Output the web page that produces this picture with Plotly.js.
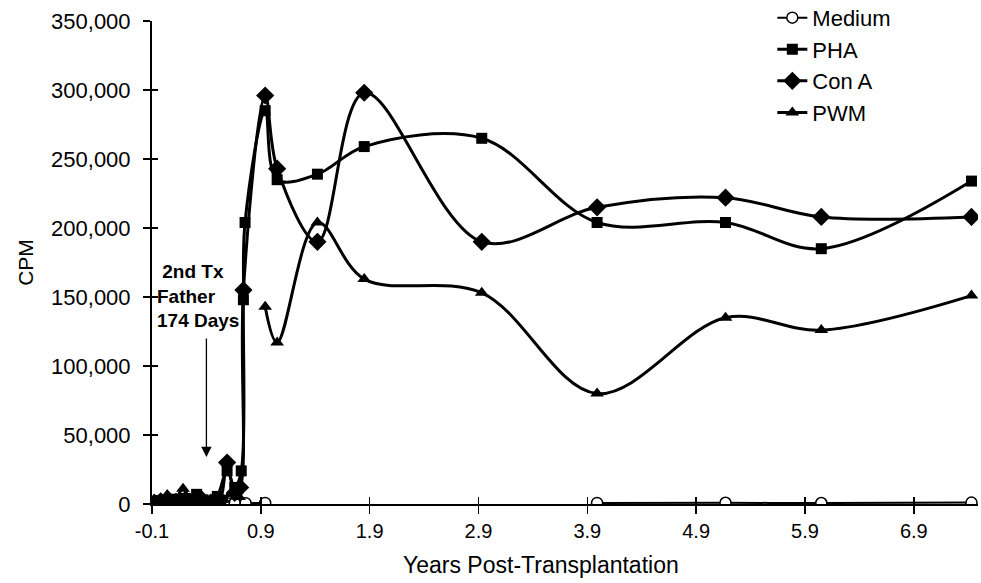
<!DOCTYPE html>
<html>
<head>
<meta charset="utf-8">
<script src="https://cdn.plot.ly/plotly-3.0.1.min.js"></script>
<style>html,body{margin:0;padding:0;background:#fff;}#chart{width:981px;height:583px;}</style>
</head>
<body>
<div id="chart"></div>
<script>
// ---- data (years post-transplantation, CPM) ----
var mediumYears = [-0.08, 0.02, 0.1, 0.2, 0.3, 0.4, 0.51, 0.59, 0.66, 0.76, 0.94, 2.0, 3.99, 5.17, 6.05, 7.43];
var mediumCPM   = [300, 500, 400, 600, 500, 400, 600, 500, 700, 600, 800, null, 800, 900, 700, 1000];

var phaYears = [-0.08, -0.03, 0.02, 0.08, 0.14, 0.2, 0.27, 0.31, 0.37, 0.44, 0.5, 0.59, 0.66, 0.72, 0.74, 0.755, 0.94, 1.05, 1.42, 1.85, 2.93, 3.99, 5.17, 6.05, 7.43];
var phaCPM   = [1500, 2500, 1000, 3500, 2000, 4000, 3000, 7000, 3000, 1500, 5500, 24000, 12000, 24000, 148000, 204000, 285000, 235000, 239000, 259000, 265000, 204000, 204000, 185000, 234000];

var conAYears = [-0.08, -0.02, 0.05, 0.12, 0.2, 0.28, 0.36, 0.44, 0.52, 0.59, 0.66, 0.71, 0.74, 0.94, 1.05, 1.42, 1.85, 2.93, 3.99, 5.17, 6.05, 7.43];
var conACPM   = [1000, 2000, 3000, 1500, 2500, 2000, 3000, 1000, 2000, 30000, 8000, 12000, 155000, 296000, 243000, 190000, 298000, 190000, 215000, 222000, 208000, 208000];

var pwmYears = [-0.08, -0.03, 0.04, 0.1, 0.185, 0.25, 0.33, 0.4, 0.48, 0.56, 0.63, 0.7, 0.8, 0.94, 1.05, 1.42, 1.85, 2.93, 3.99, 5.17, 6.05, 7.43];
var pwmCPM   = [500, 3000, 6500, 2000, 11000, 4000, 2000, 1500, 1000, 3000, 8000, 5000, null, 143000, 117000, 204000, 163000, 153000, 80000, 135000, 126000, 151000];

var xTickVals   = [-0.1, 0.9, 1.9, 2.9, 3.9, 4.9, 5.9, 6.9];
var xTickLabels = ['-0.1', '0.9', '1.9', '2.9', '3.9', '4.9', '5.9', '6.9'];
var yTickVals   = [0, 50000, 100000, 150000, 200000, 250000, 300000, 350000];

var xTitle = 'Years Post-Transplantation';
var yTitle = 'CPM';
var noteText = '&nbsp;2nd Tx<br>Father<br>174 Days';
var noteYear = 0.40, noteTail = 121000, noteHead = 34000;

// ---- traces ----
var lineStyle = {color: '#000', width: 3, shape: 'spline', smoothing: 1};
var traces = [
  {name: 'Medium', x: mediumYears, y: mediumCPM, mode: 'lines+markers',
   line: {color: '#000', width: 2, shape: 'spline', smoothing: 1},
   marker: {symbol: 'circle', size: 11, color: '#fff', line: {color: '#000', width: 1.5}}},
  {name: 'PHA', x: phaYears, y: phaCPM, mode: 'lines+markers', line: lineStyle,
   marker: {symbol: 'square', size: 11, color: '#000'}},
  {name: 'Con A', x: conAYears, y: conACPM, mode: 'lines+markers', line: lineStyle,
   marker: {symbol: 'diamond', size: 14, color: '#000'}},
  {name: 'PWM', x: pwmYears, y: pwmCPM, mode: 'lines+markers', line: lineStyle,
   marker: {symbol: 'triangle-up', size: 12, color: '#000'}},
  // invisible trace carrying the overlay axes that draw the inner half of the crossing ticks
  {x: phaYears, y: phaCPM, xaxis: 'x2', yaxis: 'y2', mode: 'lines', line: {width: 0},
   showlegend: false, hoverinfo: 'skip', opacity: 0}
];

var font = 'Arial, "Liberation Sans", sans-serif';
var xr = [-0.1, 7.49], yr = [0, 350000];

var layout = {
  width: 981, height: 583,
  margin: {l: 152, r: 3, t: 21, b: 79, autoexpand: false},
  paper_bgcolor: '#fff', plot_bgcolor: '#fff',
  font: {family: font, color: '#000', size: 20},
  showlegend: true,
  legend: {x: 0.751, y: 1.05, xanchor: 'left', yanchor: 'top', bgcolor: 'rgba(0,0,0,0)',
           font: {family: font, size: 22, color: '#000'}, itemwidth: 30, tracegroupgap: 0},
  xaxis: {range: xr, tickvals: xTickVals, ticktext: xTickLabels, ticks: 'outside', ticklen: 8,
          tickwidth: 1.5, tickcolor: '#000', showline: true, linecolor: '#000', linewidth: 2,
          showgrid: false, zeroline: false, tickfont: {family: font, size: 20}, automargin: false},
  yaxis: {range: yr, tickvals: yTickVals, tickformat: ',d', ticks: 'outside', ticklen: 7,
          tickwidth: 1.5, tickcolor: '#000', showline: true, linecolor: '#000', linewidth: 2,
          showgrid: false, zeroline: false, tickfont: {family: font, size: 22}, ticklabelstandoff: 8,
          automargin: false, title: {text: yTitle, font: {family: font, size: 21}, standoff: 12}},
  xaxis2: {range: xr, overlaying: 'x', tickvals: xTickVals, ticks: 'inside', ticklen: 7, tickwidth: 1.5,
           tickcolor: '#000', showticklabels: false, showline: false, showgrid: false, zeroline: false},
  yaxis2: {range: yr, overlaying: 'y', tickvals: yTickVals, ticks: 'inside', ticklen: 6, tickwidth: 1.5,
           tickcolor: '#000', showticklabels: false, showline: false, showgrid: false, zeroline: false},
  annotations: [
    {x: noteYear, y: noteHead, ax: noteYear, ay: noteTail, xref: 'x', yref: 'y', axref: 'x', ayref: 'y',
     text: '', showarrow: true, arrowhead: 2, arrowsize: 1.6, arrowwidth: 1.3, arrowcolor: '#000'},
    {x: -0.075, y: 177500, xref: 'x', yref: 'y', xanchor: 'left', yanchor: 'top', align: 'left',
     text: '<b>' + noteText + '</b>', showarrow: false, font: {family: font, size: 19, color: '#000'}},
    {x: 0.471, y: -0.126, xref: 'paper', yref: 'paper', xanchor: 'center', yanchor: 'middle',
     text: xTitle, showarrow: false, font: {family: font, size: 23, color: '#000'}}
  ]
};

Plotly.newPlot('chart', traces, layout, {displayModeBar: false, staticPlot: true});
</script>
</body>
</html>
